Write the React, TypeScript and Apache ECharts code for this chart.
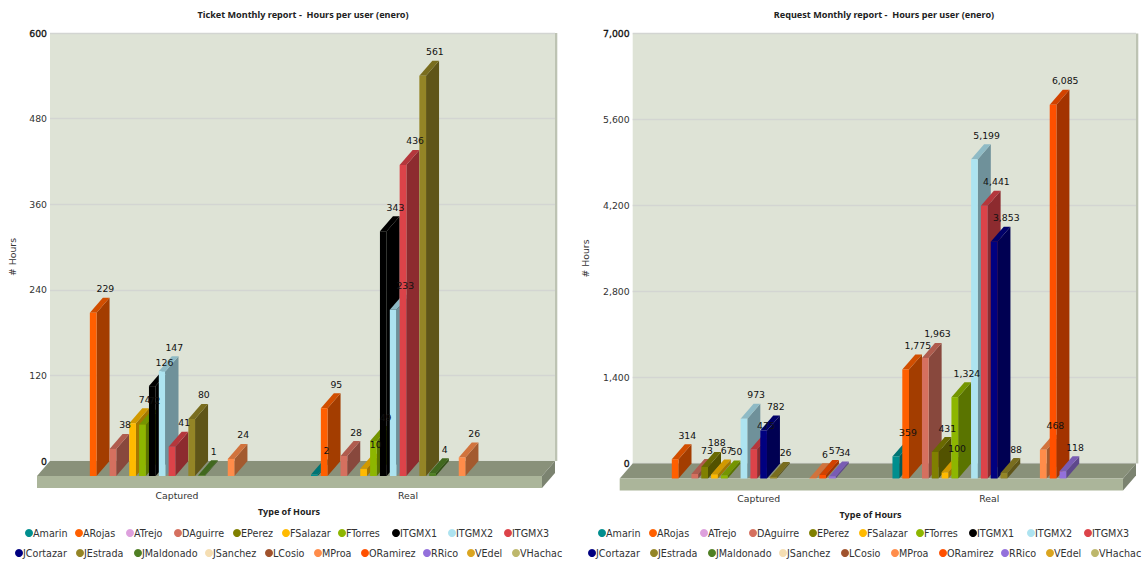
import React, { useEffect, useRef } from "react";
import * as echarts from "echarts";

const users = ["Amarin", "ARojas", "ATrejo", "DAguirre", "EPerez", "FSalazar", "FTorres", "ITGMX1", "ITGMX2", "ITGMX3", "JCortazar", "JEstrada", "JMaldonado", "JSanchez", "LCosio", "MProa", "ORamirez", "RRico", "VEdel", "VHachac"];
const colors = ["#008E8E", "#FF5F00", "#DDA0DD", "#D5705F", "#808000", "#FFBA00", "#8DB600", "#000000", "#ADE3F0", "#DC4349", "#000080", "#948526", "#4F7F24", "#F5DEB3", "#A0522D", "#FF8C4A", "#FF5000", "#9370DB", "#DAA520", "#BDB76B"];
const categories = ["Captured", "Real"];

const ticketCaptured = [null, 229, null, 38, null, 74, 72, 126, 147, 41, null, 80, 1, null, null, 24, null, null, null, null];
const ticketReal = [2, 95, null, 28, null, 10, 49, 343, 233, 436, null, 561, 4, null, null, 26, null, null, null, null];
const requestCaptured = [null, 314, null, 73, 188, 67, 50, null, 973, 475, 782, 26, null, null, null, 6, 57, 34, null, null];
const requestReal = [359, 1775, null, 1963, 431, 100, 1324, null, 5199, 4441, 3853, 88, null, null, null, 468, 6085, 118, null, null];

const FONT = "DejaVu Sans";
const TITLE_FONT = "Noto Sans";
const TEXT_SIZE = 9.3;
const LEGEND_SIZE = 9.6;
const DEPTH_X = 13;
const DEPTH_Y = 15;
const BAR_W = 6.7;
const GROUP_SHARE = 0.8528;

// Chart frames: wall is the back plane, the bars stand on the front plane.
const panels = [
  { title: "Ticket Monthly report -  Hours per user (enero)", titleX: 298, wallL: 50, wallR: 555, wallT: 33, wallH: 428, frontL: 63, frontW: 462, max: 600, step: 120, captured: ticketCaptured, real: ticketReal, nameX: 14, nameShift: 5 },
  { title: "Request Monthly report -  Hours per user (enero)", titleX: 879, wallL: 632.7, wallR: 1136, wallT: 33.5, wallH: 430, frontL: 645, frontW: 461, max: 7000, step: 1400, captured: requestCaptured, real: requestReal, nameX: 587, nameShift: 5 },
];

const legendRows = [
  [[29, 0], [79, 1], [130, 2], [178, 3], [237, 4], [286, 5], [342, 6], [396, 7], [452, 8], [508, 9], [602, 0], [653, 1], [704, 2], [753, 3], [813, 4], [863, 5], [920, 6], [973, 7], [1031, 8], [1088, 9]],
  [[19, 10], [80, 11], [138, 12], [209, 13], [269, 14], [318, 15], [365, 16], [427, 17], [471, 18], [516, 19], [592, 10], [654, 11], [712, 12], [783, 13], [845, 14], [895, 15], [943, 16], [1005, 17], [1050, 18], [1095, 19]],
];

function shade(hex: string, k: number) {
  const n = parseInt(hex.slice(1), 16);
  const c = [(n >> 16) & 255, (n >> 8) & 255, n & 255].map((v) => Math.round(v * k));
  return `rgb(${c[0]},${c[1]},${c[2]})`;
}

const fmt = (v: number) => v.toLocaleString("en-US");

function barRenderer(slot: number, color: string) {
  return (_params: any, api: any) => {
    const value = api.value(1);
    if (value == null || Number.isNaN(value)) return null;
    const [cx, top] = api.coord([api.value(0), value]);
    const [, base] = api.coord([api.value(0), 0]);
    const band = api.size([1, 0])[0];
    const pitch = (band * GROUP_SHARE) / users.length;
    const x0 = cx - (band * GROUP_SHARE) / 2 + slot * pitch;
    const x1 = x0 + BAR_W;
    const z2 = slot + 1;
    return {
      type: "group",
      children: [
        { type: "polygon", z2, shape: { points: [[x1, top], [x1 + DEPTH_X, top - DEPTH_Y], [x1 + DEPTH_X, base - DEPTH_Y], [x1, base]] }, style: { fill: shade(color, 0.64) } },
        { type: "polygon", z2, shape: { points: [[x0, top], [x0 + DEPTH_X, top - DEPTH_Y], [x1 + DEPTH_X, top - DEPTH_Y], [x1, top]] }, style: { fill: shade(color, 0.82) } },
        { type: "rect", z2, shape: { x: x0, y: top, width: BAR_W, height: base - top }, style: { fill: color } },
        { type: "text", z2: 100, x: x0 + 15.5, y: top - 24, style: { text: fmt(value), fill: "#111", font: `${TEXT_SIZE}px "${FONT}"`, align: "center", verticalAlign: "middle" } },
      ],
    };
  };
}

function buildOption() {
  const grid: any[] = [];
  const xAxis: any[] = [];
  const yAxis: any[] = [];
  const series: any[] = [];
  const graphic: any[] = [];
  const title: any[] = [];

  panels.forEach((p, i) => {
    const base = i * 2;
    const floorBack = p.wallT + p.wallH;
    const floorFront = floorBack + DEPTH_Y;
    const slabBottom = floorFront + 12;
    const fl = p.wallL - DEPTH_X;
    const fr = p.wallR - DEPTH_X;

    title.push({ text: p.title, left: p.titleX, top: 5, textAlign: "center", textStyle: { fontFamily: TITLE_FONT, fontSize: 9.1, fontWeight: "bold", color: "#222" } });

    grid.push({ left: p.wallL, top: p.wallT, width: p.wallR - p.wallL, height: p.wallH, show: true, backgroundColor: "#DEE3D6", borderWidth: 0 });
    grid.push({ left: p.frontL, top: p.wallT + DEPTH_Y, width: p.frontW, height: p.wallH });

    xAxis.push({ type: "category", gridIndex: base, show: false, data: categories });
    xAxis.push({
      type: "category", gridIndex: base + 1, data: categories,
      axisLine: { show: false }, axisTick: { show: false },
      axisLabel: { margin: 15, color: "#333", fontFamily: FONT, fontSize: TEXT_SIZE, padding: [0, 3, 0, 0] },
      name: "Type of Hours", nameLocation: "middle", nameGap: 31,
      nameTextStyle: { fontFamily: TITLE_FONT, fontSize: 9, fontWeight: "bold", color: "#222", padding: [0, 10, 0, 0] },
    });

    yAxis.push({
      type: "value", gridIndex: base, min: 0, max: p.max, interval: p.step,
      axisLine: { show: false }, axisTick: { show: false },
      splitLine: { show: true, lineStyle: { color: "#D3D5D2", width: 1.4 } },
      axisLabel: {
        margin: 3, fontFamily: FONT, fontSize: TEXT_SIZE, color: "#333",
        formatter: (v: number) => (v === 0 || v === p.max ? `{end|${fmt(v)}}` : fmt(v)),
        rich: { end: { fontFamily: FONT, fontSize: TEXT_SIZE, color: "#111", textBorderColor: "#111", textBorderWidth: 0.3 } },
      },
      name: "# Hours", nameLocation: "middle", nameGap: p.wallL - p.nameX - 3,
      nameTextStyle: { fontFamily: FONT, fontSize: TEXT_SIZE, color: "#333", padding: [0, p.nameShift * 4, 0, 0] },
    });
    yAxis.push({ type: "value", gridIndex: base + 1, min: 0, max: p.max, interval: p.step, show: false });

    // Right edge of the wall, then the floor and its slab.
    graphic.push({ type: "polygon", z: 1, shape: { points: [[p.wallR, p.wallT], [p.wallR + 2.3, p.wallT], [p.wallR + 2.3, floorBack], [p.wallR, floorBack]] }, style: { fill: "#BDC3B3" } });
    graphic.push({ type: "polygon", z: 1, shape: { points: [[p.wallL, floorBack], [p.wallR, floorBack], [fr, floorFront], [fl, floorFront]] }, style: { fill: "#89917A" } });
    graphic.push({ type: "rect", z: 1, shape: { x: fl, y: floorFront, width: fr - fl, height: 12 }, style: { fill: "#ABB59A" } });
    graphic.push({ type: "polygon", z: 1, shape: { points: [[fr, floorFront], [p.wallR, floorBack], [p.wallR, floorBack + 12], [fr, slabBottom]] }, style: { fill: "#7B8370" } });

    users.forEach((name, slot) => {
      series.push({
        type: "custom", name, coordinateSystem: "cartesian2d", xAxisIndex: base + 1, yAxisIndex: base + 1,
        clip: false, silent: true, z: 3, itemStyle: { color: colors[slot] }, encode: { x: 0, y: 1 },
        renderItem: barRenderer(slot, colors[slot]),
        data: [[0, p.captured[slot]], [1, p.real[slot]]],
      });
    });
  });

  const legend: any[] = [];
  legendRows.forEach((row, r) => {
    row.forEach(([left, idx]) => {
      legend.push({
        left: left - 4, top: r === 0 ? 528 : 548, padding: 0, selectedMode: false, orient: "horizontal",
        itemWidth: 8, itemHeight: 8, data: [{ name: users[idx], icon: "circle" }],
        textStyle: { fontFamily: FONT, fontSize: LEGEND_SIZE, color: "#333", padding: [7, 0, 0, -5] },
      });
    });
  });

  return { animation: false, backgroundColor: "#fff", title, grid, xAxis, yAxis, legend, series, graphic: { elements: graphic } };
}

export default function App() {
  const ref = useRef<HTMLDivElement>(null);
  useEffect(() => {
    const chart = echarts.init(ref.current!, undefined, { renderer: "svg" });
    chart.setOption(buildOption() as any);
    return () => chart.dispose();
  }, []);
  return <div ref={ref} style={{ position: "absolute", left: 0, top: 0, width: 1144, height: 568 }} />;
}
